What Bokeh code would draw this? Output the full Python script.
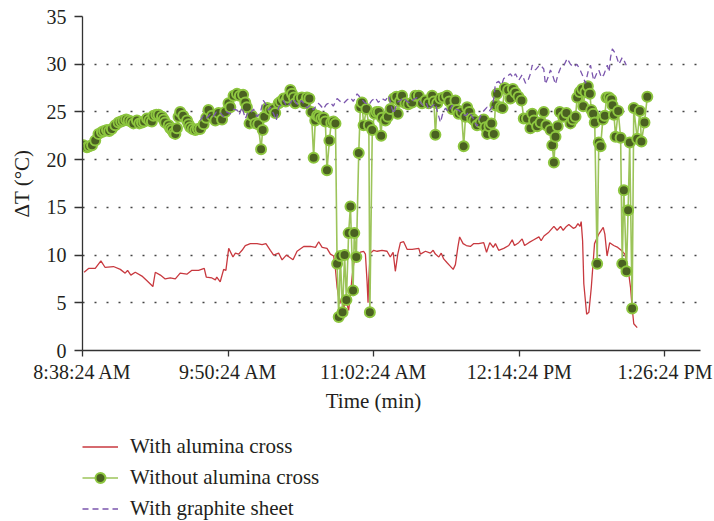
from bokeh.plotting import figure
from bokeh.models import (Range1d, FixedTicker, Legend, LegendItem, Label)
from bokeh.layouts import column
from bokeh.embed import file_html
from bokeh.resources import INLINE

# ---- data (x in minutes after 8:38:24 AM) ----
tick_minutes = [0, 72, 144, 216, 288]
tick_labels = ["8:38:24 AM", "9:50:24 AM", "11:02:24 AM", "12:14:24 PM", "1:26:24 PM"]

red_min = [0.8, 3.0, 6.3, 9.1, 11.2, 15.3, 18.7, 21.1, 22.3, 23.9, 26.1, 29.4, 31.9, 34.8, 36.0,
           38.5, 40.9, 43.4, 45.9, 48.3, 51.6, 54.1, 57.4, 60.2, 61.2, 64.0, 65.7, 66.4, 68.1,
           69.8, 70.9, 72.3, 74.4, 75.6, 77.2, 78.9, 80.5, 83.0, 86.3, 88.8, 90.7, 92.9, 94.5,
           97.0, 98.7, 100.8, 104.1, 106.1, 109.4, 112.7, 115.2, 116.8, 118.5, 120.9, 122.6,
           124.2, 125.0, 125.9, 127.2, 128.3, 129.1, 130.0, 131.6, 132.5, 133.3, 134.1, 135.8,
           137.4, 139.0, 139.9, 140.7, 141.2, 141.5, 142.3, 144.0, 145.7, 148.1, 150.6, 152.2,
           153.6, 154.7, 155.9, 157.2, 158.8, 160.5, 163.0, 166.3, 167.1, 169.6, 172.0, 173.4,
           174.5, 176.2, 177.4, 178.6, 180.3, 181.6, 183.3, 184.4, 185.6, 186.5, 188.2, 189.8,
           191.8, 193.5, 195.9, 198.4, 199.8, 201.4, 203.1, 204.2, 205.8, 208.3, 210.8, 212.5,
           213.6, 215.7, 217.4, 218.6, 220.7, 223.2, 225.7, 226.8, 228.2, 230.6, 233.1, 234.7,
           236.4, 237.7, 239.3, 240.5, 242.7, 243.8, 245.0, 246.0, 246.6, 247.3, 247.9, 249.3,
           250.4, 251.6, 253.2, 255.3, 257.5, 258.3, 259.4, 260.7, 262.7, 264.7, 266.4, 268.2,
           269.7, 271.0, 271.8, 272.6, 274.3]
red_val = [8.2, 8.6, 8.6, 9.4, 8.7, 8.8, 8.5, 8.1, 8.4, 7.9, 8.2, 7.8, 7.3, 6.7, 8.2,
           7.9, 7.5, 7.6, 7.5, 8.1, 8.0, 8.4, 8.4, 8.6, 7.7, 7.6, 7.4, 7.7, 7.2,
           8.5, 8.4, 10.7, 9.8, 10.2, 10.1, 10.5, 11.0, 11.2, 11.2, 11.1, 11.2, 10.5, 10.0,
           10.2, 9.5, 10.0, 9.5, 10.4, 10.9, 10.9, 10.8, 11.4, 10.8, 10.7, 10.1,
           9.9, 8.7, 6.6, 4.9, 5.6, 4.2, 5.5, 4.2, 5.9, 7.7, 9.1, 10.1,
           10.3, 10.4, 10.1, 7.3, 5.0, 7.3, 10.2, 10.5, 10.4, 10.5, 10.4, 9.8,
           10.3, 8.3, 10.1, 11.3, 11.4, 10.6, 10.6, 10.7, 10.1, 10.4, 10.2, 10.5,
           10.1, 9.8, 10.2, 9.6, 9.2, 8.9, 8.5, 9.0, 10.8, 11.9, 11.2, 11.0,
           10.9, 11.2, 11.2, 11.3, 10.3, 11.3, 10.8, 11.2, 10.5, 10.7, 11.0, 11.6,
           11.0, 11.3, 11.7, 11.0, 11.3, 11.6, 11.9, 11.5, 12.0, 12.4, 13.0, 12.6,
           13.0, 12.6, 13.0, 13.2, 12.8, 12.9, 13.3, 13.0, 13.5, 11.5, 7.0, 3.8,
           4.0, 6.6, 11.2, 12.2, 12.9, 12.2, 9.9, 11.3, 11.0, 10.8, 10.5, 10.1,
           8.7, 6.6, 4.5, 2.8, 2.4]

green_min = [0.5, 2.2, 3.3, 4.7, 6.3, 7.9, 9.6, 10.7, 12.1, 13.2, 14.5, 16.2, 17.8, 19.1, 20.3,
             21.6, 22.8, 24.1, 25.2, 26.9, 28.1, 29.4, 30.5, 31.9, 33.0, 34.3, 35.1, 36.5, 37.6,
             39.3, 40.2, 40.9, 42.6, 43.4, 44.2, 45.1, 45.9, 46.7, 47.5, 48.3, 49.8, 51.7, 52.5,
             53.3, 54.5, 55.8, 57.0, 58.2, 59.9, 61.2, 62.3, 64.0, 65.7, 67.3, 69.0, 70.6, 72.2,
             73.1, 74.7, 76.4, 77.8, 79.4, 80.5, 81.3, 82.6, 83.8, 85.5, 86.9, 88.3, 89.1, 89.9,
             91.4, 92.9, 94.4, 95.3, 97.0, 98.1, 99.5, 100.5, 101.4, 102.8, 103.6, 104.5, 105.2,
             106.9, 108.5, 109.7, 111.0, 112.2, 113.2, 114.3, 115.1, 116.0, 116.8, 118.1, 119.3,
             120.1, 120.9, 122.1, 123.0, 124.1, 125.1, 125.9, 126.7, 127.5, 128.6, 129.6, 130.5,
             131.6, 132.5, 133.8, 134.4, 135.4, 136.6, 137.4, 138.2, 139.0, 140.4, 141.6, 142.1,
             143.3, 144.4, 145.4, 146.5, 147.7, 148.1, 149.8, 151.0, 152.3, 153.9, 155.2, 155.9,
             157.0, 158.0, 159.7, 161.1, 163.0, 164.6, 166.3, 167.9, 169.6, 171.2, 172.9, 173.8,
             174.5, 175.4, 177.0, 178.6, 180.3, 181.4, 182.8, 184.4, 185.2, 186.0, 187.4, 188.5,
             189.4, 190.2, 191.3, 192.7, 193.8, 195.1, 196.8, 198.4, 199.3, 200.1, 201.2, 202.2,
             203.4, 204.2, 205.0, 206.7, 207.7, 208.8, 210.5, 211.6, 212.8, 214.1, 215.6, 217.1,
             218.2, 219.8, 221.5, 222.4, 223.3, 224.8, 226.5, 228.1, 229.4, 231.4, 232.3, 233.1,
             233.9, 235.0, 236.0, 237.7, 239.3, 241.3, 242.5, 243.8, 244.6, 245.9, 247.1, 247.6,
             248.7, 249.9, 250.9, 251.6, 252.5, 253.3, 254.5, 255.3, 256.2, 257.3, 258.3, 259.1,
             260.4, 261.5, 262.1, 262.8, 263.6, 264.9, 266.1, 266.9, 267.7, 269.0, 269.8, 270.6,
             271.8, 272.6, 274.3, 275.6, 276.4, 277.9, 279.3]
green_val = [21.5, 21.3, 21.4, 21.5, 22.0, 22.7, 22.9, 23.0, 23.1, 23.0, 23.2, 23.6, 23.9, 24.0, 24.1,
             24.2, 24.1, 24.0, 23.8, 24.1, 23.8, 23.9, 24.0, 24.3, 24.1, 24.0, 24.6, 24.7, 24.7,
             24.5, 24.2, 23.9, 23.6, 23.3, 23.1, 22.8, 22.7, 23.3, 24.5, 25.0, 24.6, 24.1, 23.7,
             23.4, 23.2, 23.1, 23.2, 23.2, 23.7, 24.4, 25.2, 24.6, 24.1, 24.9, 24.2, 25.0, 25.9,
             25.5, 26.7, 26.9, 26.7, 26.8, 26.0, 25.5, 23.8, 24.6, 23.8, 23.7, 21.1, 23.1, 24.5,
             25.4, 25.2, 25.3, 24.9, 25.9, 26.1, 26.4, 26.1, 26.5, 27.3, 26.9, 26.5, 25.9,
             26.4, 26.5, 25.9, 26.5, 26.4, 25.0, 20.2, 24.1, 24.6, 24.5, 24.3, 24.4,
             24.0, 18.9, 22.0, 23.9, 24.0, 23.8, 9.1, 3.5, 9.9, 4.0, 10.0, 5.3,
             12.3, 15.1, 6.3, 12.3, 9.8, 20.7, 25.5, 26.0, 23.6, 25.3, 23.6, 4.0,
             23.1, 24.8, 25.0, 25.0, 22.5, 24.4, 24.1, 24.5, 25.3, 26.4, 26.6, 24.8,
             26.1, 26.7, 25.9, 25.8, 26.0, 26.7, 26.7, 25.9, 26.2, 25.9, 26.7, 26.1,
             22.6, 25.9, 26.4, 26.5, 26.7, 26.1, 25.3, 26.2, 25.2, 24.8, 25.0, 21.4,
             24.5, 25.5, 25.0, 24.3, 24.1, 23.6, 23.9, 24.2, 23.4, 22.7, 23.5, 23.8,
             22.7, 25.7, 26.9, 25.5, 25.4, 27.5, 27.3, 26.4, 27.4, 27.0, 26.6, 26.2,
             24.3, 24.3, 23.3, 24.8, 24.1, 23.5, 23.9, 25.0, 23.6, 23.1, 21.5, 19.7,
             22.4, 23.5, 25.0, 24.5, 24.9, 23.8, 24.2, 24.5, 26.5, 27.1, 27.4, 25.6,
             27.1, 27.7, 26.9, 25.2, 24.8, 23.9, 9.1, 21.8, 21.4, 24.2, 24.6, 26.5,
             26.5, 26.3, 25.7, 24.7, 22.4, 25.1, 22.3, 9.1, 16.8, 8.3, 14.7, 21.8,
             4.4, 25.4, 22.2, 25.1, 21.9, 23.9, 26.6]

purple_min = [58.2, 59.7, 61.2, 63.2, 64.7, 66.2, 68.2, 69.7, 71.2, 73.1, 74.6, 76.4, 77.5, 78.9,
              80.5, 82.0, 83.0, 84.6, 86.3, 87.9, 89.4, 90.4, 91.9, 92.9, 94.5, 95.8, 97.0, 98.3,
              99.5, 100.8, 101.9, 103.3, 104.4, 105.7, 106.9, 108.2, 109.4, 110.9, 112.7, 114.2,
              115.1, 116.6, 117.6, 119.1, 120.6, 122.6, 124.0, 125.9, 127.5, 129.1, 131.0, 132.5,
              133.9, 135.8, 137.4, 139.4, 141.5, 143.1, 144.8, 146.3, 148.1, 149.8, 151.4, 152.7,
              153.9, 155.6, 157.2, 158.8, 160.4, 162.1, 163.6, 165.5, 167.1, 168.7, 170.1, 171.2,
              172.8, 174.5, 175.8, 177.0, 178.2, 179.5, 181.0, 182.8, 184.4, 186.0, 187.6, 189.4,
              191.1, 192.7, 193.8, 195.1, 196.3, 197.6, 198.8, 200.1, 201.2, 202.6, 203.5, 204.2,
              205.8, 207.2, 208.3, 209.9, 211.6, 212.9, 214.1, 215.7, 217.4, 219.1, 220.3, 221.5,
              222.4, 224.0, 225.6, 226.5, 228.1, 228.9, 230.2, 231.4, 232.7, 233.9, 235.1, 236.4,
              238.1, 239.7, 241.3, 242.9, 244.5, 246.3, 247.5, 248.7, 250.0, 251.2, 252.8, 254.2,
              255.3, 256.6, 257.8, 259.5, 260.4, 261.1, 262.0, 263.6, 265.3, 266.9, 268.0, 268.9]
purple_val = [24.1, 24.6, 24.3, 24.8, 24.5, 25.0, 24.9, 24.5, 25.0, 24.8, 25.3, 25.2, 24.7, 25.5,
              24.3, 25.0, 24.9, 25.3, 24.5, 24.9, 26.2, 25.9, 25.2, 25.5, 24.8, 24.1, 25.5, 25.8,
              26.2, 25.6, 25.7, 26.1, 26.4, 25.9, 25.7, 26.2, 25.9, 25.4, 25.7, 25.2,
              25.5, 25.9, 25.7, 25.3, 25.8, 26.0, 25.6, 26.4, 26.1, 25.9, 26.3, 26.5,
              26.1, 26.9, 26.5, 26.0, 25.7, 26.2, 26.5, 26.0, 26.4, 26.2, 26.7, 25.6,
              24.8, 26.0, 26.2, 26.5, 26.1, 25.9, 26.3, 26.5, 26.0, 25.6, 25.9, 25.2,
              25.6, 25.9, 24.8, 23.9, 24.9, 25.4, 25.0, 25.7, 25.3, 25.2, 24.8, 24.6,
              25.0, 24.5, 24.1, 23.5, 24.3, 24.9, 25.2, 25.5, 25.1, 25.5, 26.6, 28.0,
              28.2, 27.8, 28.5, 28.7, 29.0, 28.6, 29.0, 28.3, 28.9, 28.0, 28.3, 29.0,
              29.9, 29.4, 29.8, 29.9, 29.5, 27.9, 28.6, 29.4, 28.7, 27.9, 28.9, 29.6,
              29.9, 30.6, 30.0, 29.7, 30.0, 29.3, 28.7, 28.0, 29.2, 29.9, 28.3, 29.0,
              29.4, 28.6, 28.9, 29.9, 29.2, 30.7, 31.6, 31.1, 30.0, 30.7, 30.3, 29.9]

series_names = ["With alumina cross", "Without alumina cross", "With graphite sheet"]
x_title = "Time (min)"
y_title = "\u0394T (\u00b0C)"

# ---- styles ----
FONT = "Liberation Serif"
TEXT = "#231f20"
RED = "#c8393f"
GREEN_LINE = "#9cc45a"
GREEN_FILL = "#4a6121"
GREEN_EDGE = "#8dc63f"
PURPLE = "#7b56ad"

# ---- main plot ----
p = figure(width=714, height=385, output_backend="svg", toolbar_location=None,
           x_range=Range1d(0, 305.6), y_range=Range1d(0, 35),
           min_border_left=82, min_border_right=14, min_border_top=16,
           min_border_bottom=35, outline_line_color=None)

p.line(red_min, red_val, line_color=RED, line_width=1.3)
p.line(green_min, green_val, line_color=GREEN_LINE, line_width=1.6)
p.scatter(green_min, green_val, marker="circle", size=10,
          fill_color=GREEN_FILL, line_color=GREEN_EDGE, line_width=2)
p.line(purple_min, purple_val, line_color=PURPLE, line_width=1.3, line_dash="6 4")

p.xaxis.ticker = FixedTicker(ticks=tick_minutes)
p.xaxis.major_label_overrides = {t: l for t, l in zip(tick_minutes, tick_labels)}
p.yaxis.ticker = FixedTicker(ticks=[0, 5, 10, 15, 20, 25, 30, 35])
p.yaxis.axis_label = y_title
for ax in (p.xaxis, p.yaxis):
    ax.axis_line_color = "#333333"
    ax.axis_line_width = 1.3
    ax.major_tick_line_color = "#333333"
    ax.major_tick_line_width = 1.3
    ax.minor_tick_line_color = None
    ax.major_tick_in = 0
    ax.major_label_text_font = FONT
    ax.major_label_text_font_size = "20px"
    ax.major_label_text_color = TEXT
    ax.axis_label_text_font = FONT
    ax.axis_label_text_font_size = "21px"
    ax.axis_label_text_font_style = "normal"
    ax.axis_label_text_color = TEXT
p.xaxis.major_tick_out = 6
p.yaxis.major_tick_out = 8
p.xaxis.major_label_standoff = 4
p.yaxis.major_label_standoff = 8
p.yaxis.axis_label_standoff = 10

p.xgrid.grid_line_color = None
p.ygrid.grid_line_color = "#444444"
p.ygrid.grid_line_width = 1.6
p.ygrid.grid_line_dash = "2 10"

# ---- bottom strip: x title and legend (frame aligned with the main plot's frame) ----
q = figure(width=714, height=136, output_backend="svg", toolbar_location=None,
           x_range=Range1d(0, 1), y_range=Range1d(0, 1),
           x_axis_type=None, y_axis_type=None,
           min_border_left=0, min_border_right=0, min_border_top=0, min_border_bottom=0,
           outline_line_color=None)
q.xgrid.grid_line_color = None
q.ygrid.grid_line_color = None

q.add_layout(Label(x=291, y=121, x_units="screen", y_units="screen", text=x_title,
                   text_align="center", text_baseline="middle", text_font=FONT,
                   text_font_size="21px", text_color=TEXT))

# legend swatches: the same series, which all lie above this strip's 0..1 range
l_red = q.line(red_min, red_val, line_color=RED, line_width=1.3)
l_gline = q.line(green_min, green_val, line_color=GREEN_LINE, line_width=1.6)
l_gpts = q.scatter(green_min, green_val, marker="circle", size=10,
                   fill_color=GREEN_FILL, line_color=GREEN_EDGE, line_width=2)
l_pur = q.line(purple_min, purple_val, line_color=PURPLE, line_width=1.3, line_dash="6 4")

legend = Legend(items=[
    LegendItem(label=series_names[0], renderers=[l_red]),
    LegendItem(label=series_names[1], renderers=[l_gline, l_gpts]),
    LegendItem(label=series_names[2], renderers=[l_pur]),
], location=(0, 0), orientation="vertical",
    border_line_color=None, background_fill_alpha=0,
    label_text_font=FONT, label_text_font_size="21px", label_text_color=TEXT,
    glyph_width=36, glyph_height=25, label_height=25, label_standoff=12,
    spacing=6, padding=0, margin=0)
q.add_layout(legend, "center")

layout = column(p, q, spacing=0)
open("out.html", "w").write(file_html(layout, INLINE))
